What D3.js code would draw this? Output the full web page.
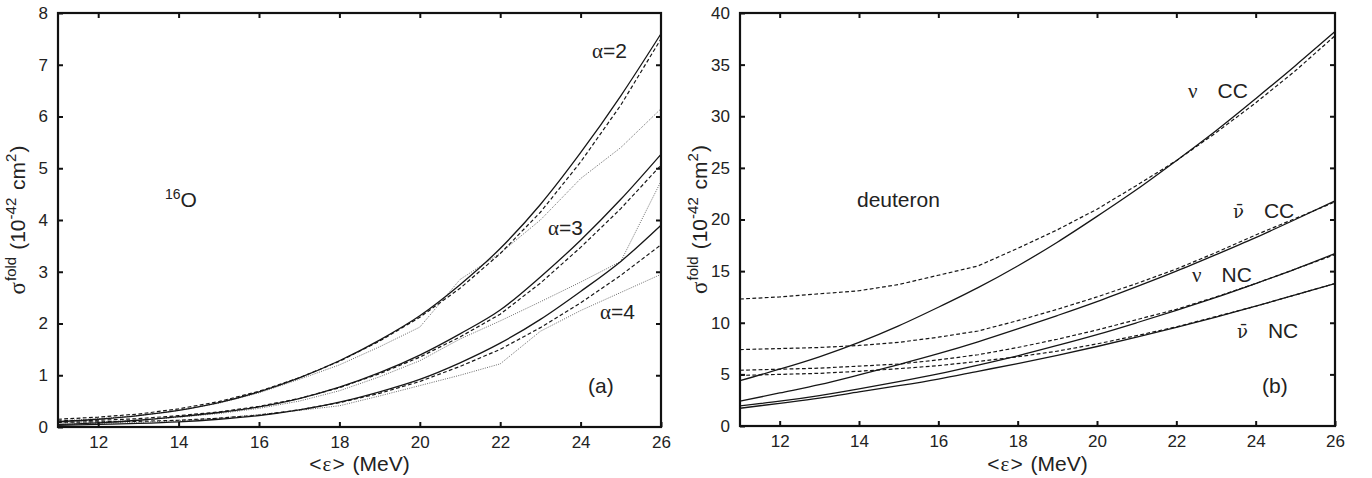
<!DOCTYPE html>
<html>
<head>
<meta charset="utf-8">
<script src="https://cdn.jsdelivr.net/npm/d3@7/dist/d3.min.js"></script>
<style>
  body { margin: 0; background: #fff; }
  svg { display: block; }
  text { font-family: "Liberation Sans", Arial, Helvetica, sans-serif; fill: #222; }
  .greek { font-family: "Liberation Serif", "DejaVu Serif", serif; }
  .greekbar { font-family: "DejaVu Serif", serif; font-size: 18px; }
</style>
</head>
<body>
<svg id="chart" width="1372" height="478"></svg>
<script>
// Mean neutrino energy <ε> in MeV, shared by every curve
const energy = [11, 12, 13, 14, 15, 16, 17, 18, 19, 20, 21, 22, 23, 24, 25, 26];

// Panel (a): 16O folded cross sections, 10^-42 cm^2, for alpha = 2, 3, 4
const o16Alpha2Solid  = [0.10, 0.15, 0.22, 0.32, 0.47, 0.68, 0.95, 1.28, 1.68, 2.15, 2.75, 3.45, 4.30, 5.30, 6.40, 7.60];
const o16Alpha2Dashed = [0.15, 0.19, 0.25, 0.35, 0.49, 0.69, 0.95, 1.27, 1.66, 2.12, 2.68, 3.35, 4.15, 5.12, 6.22, 7.50];
const o16Alpha2Dotted = [0.12, 0.16, 0.22, 0.32, 0.46, 0.66, 0.92, 1.20, 1.55, 1.93, 2.85, 3.36, 4.00, 4.80, 5.40, 6.15];
const o16Alpha3Solid  = [0.05, 0.08, 0.13, 0.20, 0.28, 0.39, 0.55, 0.77, 1.05, 1.39, 1.80, 2.26, 2.90, 3.61, 4.40, 5.27];
const o16Alpha3Dashed = [0.12, 0.13, 0.16, 0.22, 0.29, 0.40, 0.55, 0.76, 1.03, 1.35, 1.74, 2.18, 2.78, 3.47, 4.22, 5.06];
const o16Alpha3Dotted = [0.09, 0.10, 0.13, 0.19, 0.26, 0.36, 0.50, 0.70, 0.97, 1.28, 1.70, 2.05, 2.42, 2.80, 3.20, 4.75];
const o16Alpha4Solid  = [0.03, 0.05, 0.07, 0.10, 0.15, 0.22, 0.33, 0.48, 0.68, 0.92, 1.24, 1.62, 2.08, 2.62, 3.20, 3.90];
const o16Alpha4Dashed = [0.09, 0.10, 0.11, 0.13, 0.17, 0.23, 0.33, 0.47, 0.65, 0.88, 1.17, 1.50, 1.92, 2.40, 2.93, 3.52];
const o16Alpha4Dotted = [0.05, 0.07, 0.09, 0.12, 0.17, 0.24, 0.32, 0.41, 0.60, 0.80, 1.00, 1.22, 1.85, 2.25, 2.60, 2.95];

// Panel (b): deuteron folded cross sections, 10^-42 cm^2
const dNuCCSolid      = [4.4, 5.5, 6.7, 8.1, 9.7, 11.5, 13.4, 15.5, 17.8, 20.3, 22.9, 25.7, 28.6, 31.7, 34.9, 38.2];
const dNuCCDashed     = [12.3, 12.5, 12.8, 13.1, 13.7, 14.6, 15.5, 17.2, 19.0, 21.0, 23.3, 25.7, 28.4, 31.3, 34.4, 37.8];
const dNuBarCCSolid   = [2.4, 3.2, 4.0, 4.95, 5.95, 7.0, 8.15, 9.4, 10.7, 12.05, 13.5, 15.0, 16.6, 18.25, 20.0, 21.8];
const dNuBarCCDashed  = [7.4, 7.5, 7.6, 7.8, 8.1, 8.6, 9.2, 10.2, 11.3, 12.5, 13.8, 15.2, 16.8, 18.5, 20.1, 21.7];
const dNuNCSolid      = [1.95, 2.4, 2.95, 3.6, 4.3, 5.05, 5.9, 6.8, 7.8, 8.85, 10.0, 11.2, 12.45, 13.8, 15.2, 16.7];
const dNuNCDashed     = [5.4, 5.5, 5.6, 5.8, 6.0, 6.4, 6.9, 7.6, 8.4, 9.3, 10.3, 11.3, 12.5, 13.8, 15.2, 16.6];
const dNuBarNCSolid   = [1.72, 2.2, 2.7, 3.3, 3.9, 4.55, 5.3, 6.05, 6.85, 7.7, 8.6, 9.55, 10.55, 11.6, 12.7, 13.8];
const dNuBarNCDashed  = [4.9, 5.0, 5.1, 5.3, 5.55, 5.85, 6.25, 6.7, 7.25, 7.95, 8.75, 9.6, 10.6, 11.6, 12.7, 13.8];

// Axis ticks
const xTicks = [12, 14, 16, 18, 20, 22, 24, 26];
const yTicksA = [0, 1, 2, 3, 4, 5, 6, 7, 8];
const yTicksB = [0, 5, 10, 15, 20, 25, 30, 35, 40];

const styles = {
  solid:  { stroke: "#161616", width: 1.3, dash: null,      curve: d3.curveMonotoneX },
  dashed: { stroke: "#161616", width: 1.2, dash: "3.8,2.4", curve: d3.curveLinear },
  dotted: { stroke: "#6a6a6a", width: 1.0, dash: "1,1.3",   curve: d3.curveLinear }
};

const panels = [
  {
    box: { left: 58, right: 661, top: 13, bottom: 427 },
    yMax: 8, yTicks: yTicksA, titleX: 25,
    series: [
      [o16Alpha2Dotted, "dotted"], [o16Alpha3Dotted, "dotted"], [o16Alpha4Dotted, "dotted"],
      [o16Alpha2Dashed, "dashed"], [o16Alpha3Dashed, "dashed"], [o16Alpha4Dashed, "dashed"],
      [o16Alpha2Solid, "solid"],   [o16Alpha3Solid, "solid"],   [o16Alpha4Solid, "solid"]
    ]
  },
  {
    box: { left: 740, right: 1335, top: 13, bottom: 426 },
    yMax: 40, yTicks: yTicksB, titleX: 707,
    series: [
      [dNuCCDashed, "dashed"], [dNuBarCCDashed, "dashed"], [dNuNCDashed, "dashed"], [dNuBarNCDashed, "dashed"],
      [dNuCCSolid, "solid"],   [dNuBarCCSolid, "solid"],   [dNuNCSolid, "solid"],   [dNuBarNCSolid, "solid"]
    ]
  }
];

const svg = d3.select("#chart");

panels.forEach(p => {
  const b = p.box;
  const x = d3.scaleLinear().domain([11, 26]).range([b.left, b.right]);
  const y = d3.scaleLinear().domain([0, p.yMax]).range([b.bottom, b.top]);
  const g = svg.append("g");

  // curves
  p.series.forEach(([vals, kind]) => {
    const s = styles[kind];
    const line = d3.line().x((d, k) => x(energy[k])).y(d => y(d)).curve(s.curve);
    g.append("path")
      .attr("d", line(vals))
      .attr("fill", "none")
      .attr("stroke", s.stroke)
      .attr("stroke-width", s.width)
      .attr("stroke-dasharray", s.dash);
  });

  // axes with inward ticks on all four sides
  const tickStyle = sel => {
    sel.select(".domain").remove();
    sel.selectAll(".tick line").attr("stroke", "#111").attr("stroke-width", 2);
    sel.selectAll(".tick text").attr("fill", "#222").style("font-size", "17px")
      .style("font-family", '"Liberation Sans", Arial, sans-serif');
  };
  g.append("g").attr("transform", `translate(0,${b.bottom})`)
    .call(d3.axisBottom(x).tickValues(xTicks).tickSizeInner(-5).tickSizeOuter(0).tickPadding(9))
    .call(tickStyle);
  g.append("g").attr("transform", `translate(0,${b.top})`)
    .call(d3.axisTop(x).tickValues(xTicks.slice(0, -1)).tickSizeInner(-5).tickSizeOuter(0).tickFormat(""))
    .call(tickStyle);
  g.append("g").attr("transform", `translate(${b.left},0)`)
    .call(d3.axisLeft(y).tickValues(p.yTicks).tickSizeInner(-5).tickSizeOuter(0).tickPadding(10))
    .call(tickStyle);
  g.append("g").attr("transform", `translate(${b.right},0)`)
    .call(d3.axisRight(y).tickValues(p.yTicks.slice(1, -1)).tickSizeInner(-5).tickSizeOuter(0).tickFormat(""))
    .call(tickStyle);

  // frame
  g.append("rect")
    .attr("x", b.left).attr("y", b.top)
    .attr("width", b.right - b.left).attr("height", b.bottom - b.top)
    .attr("fill", "none").attr("stroke", "#111").attr("stroke-width", 2.2);

  // x title
  const xt = g.append("text")
    .attr("x", (b.left + b.right) / 2).attr("y", 471)
    .attr("text-anchor", "middle").style("font-size", "21px");
  xt.append("tspan").text("<");
  xt.append("tspan").attr("class", "greek").attr("dx", 1).text("ε");
  xt.append("tspan").attr("dx", 1).text(">");
  xt.append("tspan").attr("dx", 2).text(" (MeV)");

  // y title
  const yt = g.append("text")
    .attr("transform", `translate(${p.titleX},${(b.top + b.bottom) / 2}) rotate(-90)`)
    .attr("text-anchor", "middle").style("font-size", "21px");
  yt.append("tspan").attr("class", "greek").style("font-size", "23px").text("σ");
  yt.append("tspan").attr("dy", -9).attr("dx", 1).style("font-size", "15px").text("fold");
  yt.append("tspan").attr("dy", 9).attr("dx", 7).text("(10");
  yt.append("tspan").attr("dy", -9).style("font-size", "15px").text("-42");
  yt.append("tspan").attr("dy", 9).attr("dx", 2).text(" cm");
  yt.append("tspan").attr("dy", -9).style("font-size", "15px").text("2");
  yt.append("tspan").attr("dy", 9).attr("dx", 1).text(")");
});

// annotations
const ann = svg.append("g").style("font-size", "21px");
function label(xp, yp, parts) {
  const t = ann.append("text").attr("x", xp).attr("y", yp);
  parts.forEach(([txt, opts]) => {
    const ts = t.append("tspan").text(txt);
    if (opts) Object.entries(opts).forEach(([k, v]) => {
      if (k === "class") ts.attr("class", v);
      else if (k === "size") ts.style("font-size", v);
      else ts.attr(k, v);
    });
  });
  return t;
}
// antineutrino: nu with a combining macron
const nuBar = ["ν\u0304", { class: "greekbar" }];
label(165, 207, [["16", { size: "14px", dy: -8 }], ["O", { dy: 8 }]]);
label(592, 58,  [["α", { class: "greek" }], ["=2"]]);
label(548, 235, [["α", { class: "greek" }], ["=3"]]);
label(600, 319, [["α", { class: "greek" }], ["=4"]]);
label(588, 393, [["(a)"]]);
label(857, 207, [["deuteron"]]);
label(1188, 98,  [["ν", { class: "greek" }], ["CC", { dx: 20 }]]);
label(1233, 218, [nuBar, ["CC", { dx: 20 }]]);
label(1192, 282, [["ν", { class: "greek" }], ["NC", { dx: 20 }]]);
label(1237, 338, [nuBar, ["NC", { dx: 20 }]]);
label(1262, 393, [["(b)"]]);
</script>
</body>
</html>
